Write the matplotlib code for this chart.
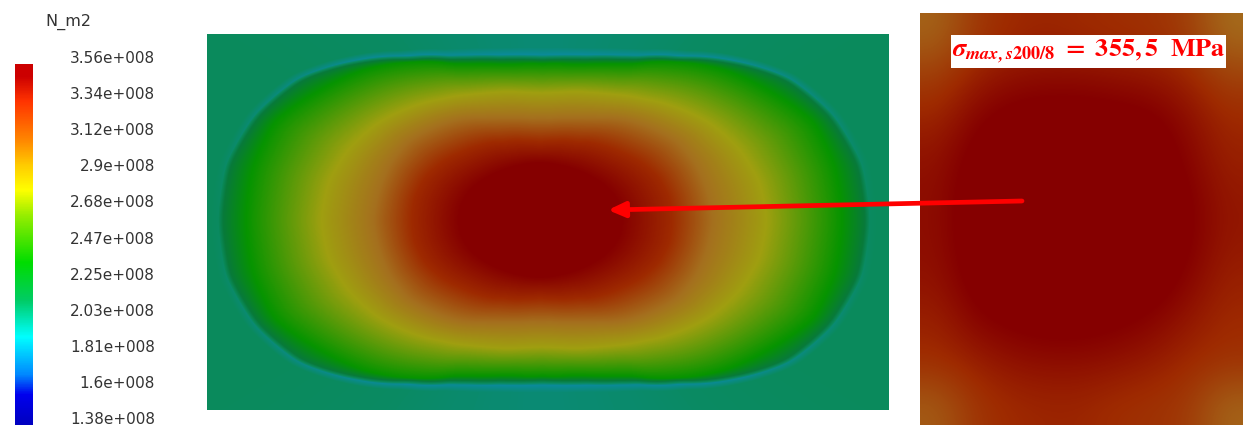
import numpy as np
import matplotlib
matplotlib.use("Agg")
import matplotlib.pyplot as plt
from matplotlib.colors import LinearSegmentedColormap, Normalize

# ---- data (stress in 1e6 N/m2) ----
title_unit = "N_m2"
tick_labels = ["3.56e+008", "3.34e+008", "3.12e+008", "2.9e+008", "2.68e+008", "2.47e+008",
               "2.25e+008", "2.03e+008", "1.81e+008", "1.6e+008", "1.38e+008"]
annotation = r"$\mathbfit{\sigma}_{\mathbfit{max,s}\mathbf{200/8}}\mathbf{\ =\ 355,5\ \ MPa}$"

# colour scale shown in the legend bar
bar_values = [138, 156, 168, 191, 213, 236, 265, 280, 295, 310, 334, 349, 356]
bar_colors = ["#0000c0", "#0000ee", "#0088ff", "#00ffff", "#00cc66", "#00dd00", "#99ee00",
              "#ffff00", "#ffcc00", "#ff8800", "#ff3300", "#cc0000", "#cc0000"]

# the same scale as it looks on the shaded plates
plate_values = [186, 205, 224, 238, 268, 300, 334, 352, 356]
plate_colors = ["#0b8a9c", "#0a8a5c", "#087a3a", "#069400", "#9f9f10", "#a5701e", "#9e2a00",
                "#850000", "#850000"]

# plate contours: radius (px) of each stress ring along rays from the plate centre
ray_angles = [0, 10, 20, 30, 40, 50, 60, 65, 70, 75, 80, 85, 90]
ring_core = [70, 69, 66, 62, 58, 55, 53, 53, 52, 52, 52, 52, 52]
ring_red = [130, 129, 124, 115, 105, 97, 90, 86, 84, 82, 80, 79, 78]
ring_brown = [170, 167, 163, 156, 143, 131, 118, 113, 109, 106, 104, 102, 102]
ring_olive = [223, 219, 208, 193, 175, 158, 145, 140, 136, 133, 130, 128, 127]
ring_green = [298, 296, 287, 259, 234, 206, 180, 172, 166, 161, 158, 157, 156]
ring_edge = [326, 323, 308, 284, 248, 214, 190, 182, 176, 171, 168, 166, 165]
ridge_value = [204, 202, 198, 194, 190, 188, 188, 188, 188, 187, 187, 187, 187]
outer_value = [205, 205, 205, 205, 204, 203, 201, 200, 200, 199, 199, 198, 198]

# second plate, coarse stress readings
small_plate = [
    [306, 326, 334, 336, 334, 332, 330, 324, 302],
    [324, 338, 344, 346, 346, 344, 342, 336, 322],
    [336, 350, 356, 357, 357, 356, 354, 346, 334],
    [344, 356, 358, 358, 358, 358, 358, 350, 338],
    [346, 358, 358, 358, 358, 358, 358, 354, 342],
    [346, 358, 358, 358, 358, 358, 358, 354, 342],
    [344, 356, 358, 358, 358, 358, 358, 350, 338],
    [338, 350, 354, 356, 356, 354, 350, 342, 334],
    [332, 338, 344, 346, 346, 344, 340, 334, 330],
    [310, 328, 334, 336, 336, 332, 330, 326, 306],
]

# ---- figure ----
W, H = 1244, 425
fig = plt.figure(figsize=(W / 100, H / 100), dpi=100, facecolor="white")
ax = fig.add_axes([0, 0, 1, 1])

bar_norm = Normalize(min(bar_values), max(bar_values))
bar_cmap = LinearSegmentedColormap.from_list(
    "bar", [(bar_norm(v), c) for v, c in zip(bar_values, bar_colors)], N=512)
plate_norm = Normalize(min(plate_values), max(plate_values))
plate_cmap = LinearSegmentedColormap.from_list(
    "plate", [(plate_norm(v), c) for v, c in zip(plate_values, plate_colors)], N=512)

# legend bar
bar = np.linspace(max(bar_values), min(bar_values), 361).reshape(-1, 1)
ax.imshow(bar, cmap=bar_cmap, norm=bar_norm, extent=(15, 33, 425, 64), aspect="auto")
ax.text(45, 22, title_unit, fontsize=11.5, color="#333333", va="center", ha="left")
for i, label in enumerate(tick_labels):
    ax.text(155, 58 + i * 36.2, label, fontsize=11, color="#333333", va="center", ha="right")

# main plate
x0, x1, y0, y1 = 207, 889, 34, 410
cx, cy = 544, 220
xx, yy = np.meshgrid(np.arange(x0, x1) + 0.5, np.arange(y0, y1) + 0.5)
dx, dy = xx - cx, yy - cy
r = np.hypot(dx, dy)
# the hot core sits slightly left of the plate centre
dx = dx + 6 * np.clip(1 - r / 200, 0, 1)
r = np.hypot(dx, dy)
theta = np.degrees(np.arctan2(np.abs(dy), np.abs(dx)))

fine = np.arange(-90, 180.25, 0.5)
kernel = np.hanning(13)
kernel /= kernel.sum()


def on_rays(values):
    # ray readings, mirrored across the axes and eased so the rings stay round
    profile = np.interp(np.abs(fine), ray_angles, values)
    profile[fine > 90] = np.interp(180 - fine[fine > 90], ray_angles, values)
    smooth = np.convolve(profile, kernel, mode="same")
    keep = (fine >= 0) & (fine <= 90)
    return np.interp(theta, fine[keep], smooth[keep])


edge = on_rays(ring_edge)
radii = [np.zeros_like(r), on_rays(ring_core), on_rays(ring_red), on_rays(ring_brown),
         on_rays(ring_olive), on_rays(ring_green), edge - 5, edge, edge + 7, edge + 400]
vals = [np.full_like(r, 358.0), np.full_like(r, 356.0), np.full_like(r, 334.0),
        np.full_like(r, 300.0), np.full_like(r, 268.0), np.full_like(r, 238.0),
        np.full_like(r, 224.0), on_rays(ridge_value), on_rays(outer_value), on_rays(outer_value)]
radii = np.stack(radii)
vals = np.stack(vals)
idx = np.clip((r >= radii).sum(axis=0) - 1, 0, len(radii) - 2)
rows, cols = np.indices(r.shape)
t = (r - radii[idx, rows, cols]) / (radii[idx + 1, rows, cols] - radii[idx, rows, cols])
field = vals[idx, rows, cols] * (1 - t) + vals[idx + 1, rows, cols] * t
ax.imshow(field, cmap=plate_cmap, norm=plate_norm, extent=(x0, x1, y1, y0), aspect="auto",
          interpolation="bilinear")

# second plate
ax.imshow(np.array(small_plate, dtype=float), cmap=plate_cmap, norm=plate_norm,
          extent=(920, 1243, 425, 13), aspect="auto", interpolation="bicubic")

# annotation box
ax.fill_between([951, 1226], 35, 68, color="white", lw=0, zorder=3)
ax.text(952, 51, annotation, fontsize=18.8, color="#ff0000", va="center", ha="left", zorder=4,
        math_fontfamily="stix")

# arrow
ax.annotate("", xy=(608, 210), xytext=(1022, 201), zorder=5,
            arrowprops=dict(arrowstyle="-|>,head_length=1.0,head_width=0.45", color="#ff0000",
                            lw=3.4, shrinkA=0, shrinkB=0))

ax.set_xlim(0, W)
ax.set_ylim(H, 0)
ax.axis("off")
fig.savefig("out.png", dpi=100, facecolor="white")
